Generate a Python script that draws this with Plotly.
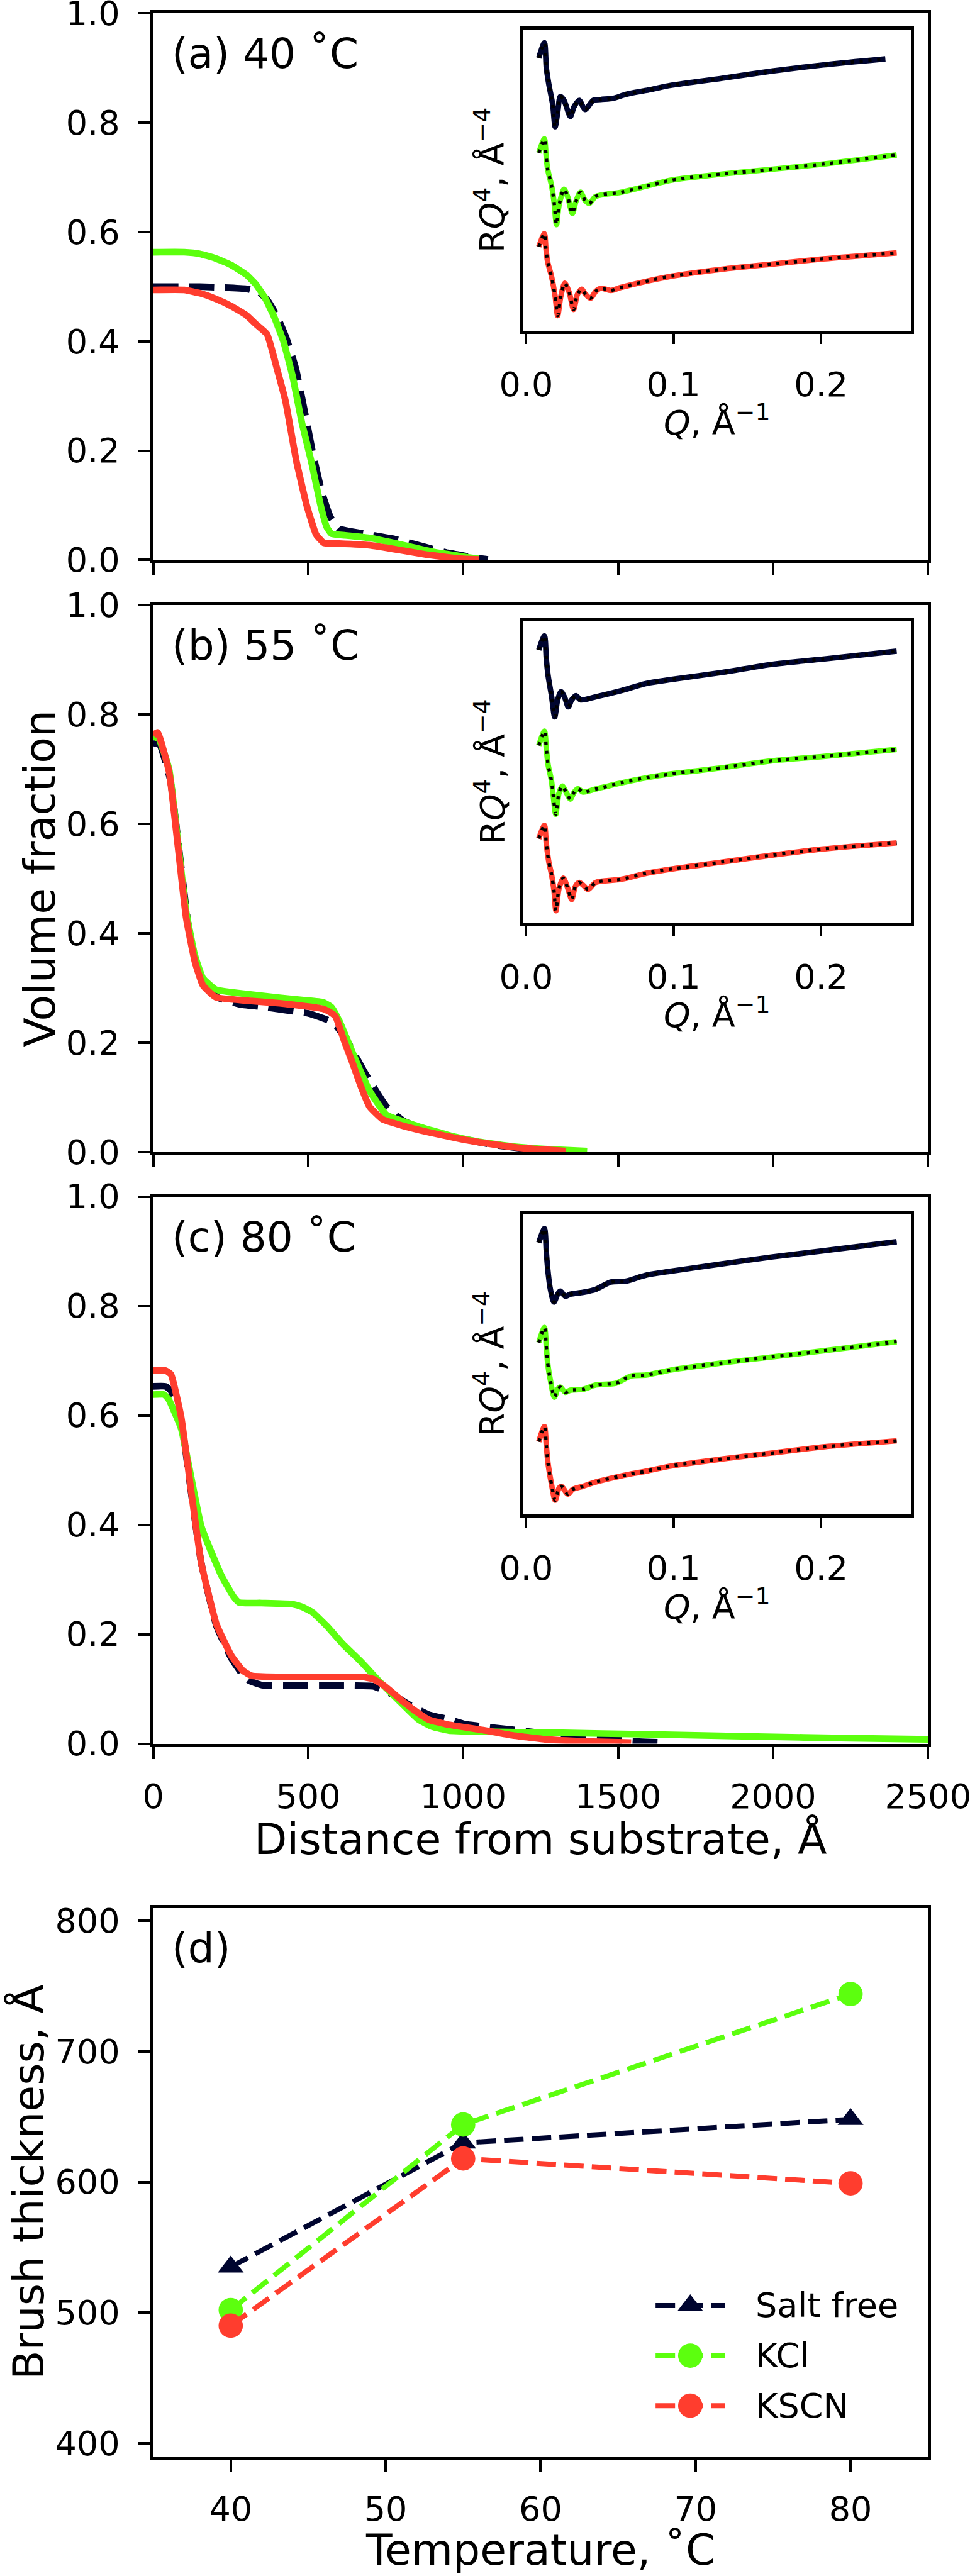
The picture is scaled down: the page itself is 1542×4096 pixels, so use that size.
import plotly.graph_objects as go

# ---------------- reference geometry helpers ----------------
W0, H0 = 1595, 4237          # reference size
W, H = 1542, 4096            # output size
S = W / W0                   # 0.966


def px(x):
    return x / W0


def py(y):
    return 1 - y / H0


FONT = "DejaVu Sans"
NAVY = "#00052F"
GREEN = "#5CFF0E"
RED = "#FF3D2E"

# ---------------- data: volume fraction profiles ----------------
# (a) 40 C
a_sf_x = [0, 150, 300, 340, 370, 400, 430, 460, 490, 515, 545, 572, 600, 640, 700, 780, 850, 900, 950, 1000, 1050, 1080]
a_sf_y = [0.500, 0.500, 0.496, 0.490, 0.474, 0.445, 0.405, 0.350, 0.268, 0.195, 0.122, 0.078, 0.057, 0.052, 0.046, 0.038, 0.028, 0.020, 0.013, 0.008, 0.003, 0.001]
a_kcl_x = [0, 100, 150, 200, 250, 300, 330, 360, 390, 420, 450, 480, 510, 540, 560, 575, 620, 700, 800, 900, 1000, 1050]
a_kcl_y = [0.563, 0.563, 0.560, 0.552, 0.540, 0.522, 0.505, 0.480, 0.445, 0.400, 0.335, 0.250, 0.180, 0.100, 0.060, 0.048, 0.045, 0.040, 0.028, 0.015, 0.006, 0.002]
a_kscn_x = [0, 100, 150, 200, 250, 300, 330, 367, 401, 427, 461, 496, 526, 551, 600, 697, 797, 880, 948, 1000, 1052]
a_kscn_y = [0.494, 0.494, 0.488, 0.478, 0.465, 0.448, 0.432, 0.413, 0.346, 0.290, 0.183, 0.098, 0.046, 0.031, 0.030, 0.027, 0.018, 0.010, 0.005, 0.002, 0.001]

# (b) 55 C
b_sf_x = [0, 20, 55, 85, 112, 140, 170, 210, 280, 344, 420, 504, 560, 583, 629, 684, 753, 808, 880, 1000, 1100, 1200, 1300]
b_sf_y = [0.748, 0.745, 0.680, 0.545, 0.420, 0.340, 0.300, 0.282, 0.270, 0.266, 0.260, 0.253, 0.242, 0.236, 0.200, 0.144, 0.083, 0.057, 0.040, 0.024, 0.013, 0.006, 0.002]
b_kcl_x = [0, 14, 51, 79, 106, 134, 160, 202, 300, 408, 500, 547, 575, 600, 630, 657, 700, 753, 850, 959, 1050, 1165, 1280, 1400]
b_kcl_y = [0.755, 0.760, 0.700, 0.570, 0.440, 0.360, 0.318, 0.297, 0.289, 0.282, 0.277, 0.274, 0.265, 0.240, 0.200, 0.163, 0.110, 0.068, 0.048, 0.030, 0.019, 0.010, 0.005, 0.002]
b_kscn_x = [0, 14, 51, 79, 106, 134, 160, 202, 300, 408, 500, 547, 570, 588, 615, 643, 670, 698, 740, 800, 891, 1000, 1097, 1200, 1331]
b_kscn_y = [0.762, 0.767, 0.695, 0.562, 0.429, 0.349, 0.305, 0.283, 0.277, 0.272, 0.266, 0.262, 0.256, 0.248, 0.205, 0.163, 0.120, 0.083, 0.060, 0.049, 0.036, 0.023, 0.014, 0.007, 0.002]

# (c) 80 C
c_sf_x = [0, 40, 57, 90, 122, 155, 204, 253, 290, 310, 351, 450, 550, 650, 710, 742, 775, 830, 889, 950, 1003, 1100, 1215, 1340, 1460, 1560, 1656]
c_sf_y = [0.653, 0.653, 0.645, 0.590, 0.460, 0.330, 0.215, 0.155, 0.125, 0.115, 0.107, 0.106, 0.106, 0.106, 0.105, 0.098, 0.089, 0.070, 0.053, 0.045, 0.036, 0.029, 0.022, 0.014, 0.008, 0.004, 0.002]
c_kcl_x = [0, 35, 49, 90, 155, 220, 260, 277, 350, 449, 480, 514, 560, 612, 670, 726, 790, 856, 900, 954, 1050, 1297, 1600, 1949, 2250, 2500]
c_kcl_y = [0.638, 0.638, 0.630, 0.576, 0.397, 0.307, 0.268, 0.258, 0.257, 0.255, 0.250, 0.240, 0.215, 0.182, 0.150, 0.116, 0.080, 0.044, 0.031, 0.024, 0.022, 0.020, 0.017, 0.013, 0.010, 0.008]
c_kscn_x = [0, 40, 57, 90, 122, 155, 204, 253, 290, 318, 400, 500, 600, 677, 710, 742, 775, 808, 850, 889, 950, 1052, 1150, 1264, 1400, 1542]
c_kscn_y = [0.682, 0.682, 0.675, 0.597, 0.463, 0.330, 0.218, 0.160, 0.133, 0.124, 0.122, 0.122, 0.122, 0.122, 0.118, 0.107, 0.092, 0.076, 0.058, 0.044, 0.035, 0.026, 0.016, 0.008, 0.004, 0.002]

# ---------------- data: reflectivity insets (RQ^4, arbitrary offset units) ----------------
a_ref_sf_q = [0.0086, 0.0124, 0.0137, 0.0154, 0.0180, 0.0197, 0.0214, 0.0232, 0.0257, 0.0300, 0.0326, 0.0360, 0.0400, 0.0455, 0.0506, 0.0592, 0.0678, 0.0815, 0.0986, 0.1329, 0.1672, 0.2015, 0.2436]
a_ref_sf_r = [90.0, 95.0, 86.7, 81.3, 74.7, 67.3, 72.0, 77.3, 76.0, 70.7, 74.0, 76.0, 73.0, 76.0, 76.3, 76.7, 78.0, 79.3, 81.0, 83.3, 85.7, 87.7, 89.7]
a_ref_kcl_q = [0.0086, 0.0124, 0.0134, 0.0146, 0.0172, 0.0189, 0.0206, 0.0223, 0.0257, 0.0283, 0.0314, 0.0338, 0.0369, 0.0400, 0.0429, 0.0472, 0.0643, 0.0815, 0.0986, 0.1329, 0.1672, 0.2015, 0.2513]
a_ref_kcl_r = [58.7, 63.3, 58.7, 53.3, 48.0, 42.7, 35.0, 41.3, 46.7, 44.0, 38.7, 42.7, 45.7, 43.0, 42.0, 44.3, 45.7, 47.7, 49.7, 51.7, 53.3, 55.0, 58.0]
a_ref_kscn_q = [0.0086, 0.0124, 0.0134, 0.0146, 0.0172, 0.0197, 0.0214, 0.0235, 0.0262, 0.0292, 0.0322, 0.0348, 0.0377, 0.0403, 0.0437, 0.0472, 0.0506, 0.0575, 0.0643, 0.0815, 0.0986, 0.1329, 0.1672, 0.2015, 0.2513]
a_ref_kscn_r = [27.7, 32.0, 27.3, 22.7, 18.0, 11.3, 5.0, 11.3, 15.7, 12.7, 7.0, 12.0, 13.7, 12.0, 10.7, 13.0, 14.0, 13.3, 14.3, 16.3, 18.0, 20.3, 22.0, 23.7, 25.7]

b_ref_sf_q = [0.0086, 0.0124, 0.0137, 0.0149, 0.0172, 0.0194, 0.0214, 0.0237, 0.0262, 0.0286, 0.0309, 0.0338, 0.0369, 0.0472, 0.0643, 0.0815, 0.0986, 0.1329, 0.1672, 0.2015, 0.2513]
b_ref_sf_r = [89.7, 94.3, 86.7, 81.3, 74.7, 67.7, 73.3, 76.0, 74.0, 71.0, 73.3, 74.7, 73.3, 74.3, 76.3, 78.7, 80.0, 82.3, 85.0, 86.7, 89.3]
b_ref_kcl_q = [0.0086, 0.0124, 0.0137, 0.0149, 0.0172, 0.0185, 0.0201, 0.0223, 0.0245, 0.0274, 0.0300, 0.0326, 0.0352, 0.0386, 0.0472, 0.0643, 0.0815, 0.0986, 0.1158, 0.1329, 0.1672, 0.2015, 0.2513]
b_ref_kcl_r = [58.3, 63.0, 57.3, 52.0, 46.7, 41.3, 35.7, 42.7, 45.0, 42.7, 40.7, 43.0, 44.1, 43.0, 44.0, 46.0, 47.7, 49.0, 50.0, 51.0, 53.3, 54.7, 57.0]
b_ref_kscn_q = [0.0086, 0.0124, 0.0137, 0.0154, 0.0172, 0.0189, 0.0202, 0.0223, 0.0252, 0.0283, 0.0309, 0.0334, 0.0360, 0.0395, 0.0420, 0.0472, 0.0643, 0.0815, 0.0986, 0.1329, 0.1672, 0.2015, 0.2513]
b_ref_kscn_r = [27.7, 32.0, 26.0, 20.0, 16.0, 10.7, 4.0, 11.3, 14.7, 11.3, 7.7, 12.0, 13.3, 12.0, 11.0, 13.3, 14.3, 16.3, 17.7, 20.0, 22.3, 24.3, 26.3]

c_ref_sf_q = [0.0086, 0.0124, 0.0137, 0.0146, 0.0163, 0.0189, 0.0214, 0.0232, 0.0266, 0.0300, 0.0386, 0.0472, 0.0575, 0.0678, 0.0815, 0.0986, 0.1329, 0.1672, 0.2015, 0.2513]
c_ref_sf_r = [89.7, 94.3, 86.7, 81.3, 74.7, 70.1, 72.7, 73.7, 72.0, 72.7, 73.3, 74.3, 76.7, 77.0, 79.0, 80.3, 82.7, 85.0, 87.0, 90.0]
c_ref_kcl_q = [0.0086, 0.0124, 0.0137, 0.0146, 0.0163, 0.0192, 0.0214, 0.0232, 0.0266, 0.0300, 0.0386, 0.0472, 0.0609, 0.0712, 0.0815, 0.0986, 0.1329, 0.1672, 0.2015, 0.2513]
c_ref_kcl_r = [56.7, 61.7, 55.3, 50.0, 44.7, 38.7, 41.3, 42.0, 40.3, 41.0, 41.3, 42.7, 43.3, 45.7, 46.0, 47.7, 50.0, 52.0, 54.0, 57.0]
c_ref_kscn_q = [0.0086, 0.0124, 0.0137, 0.0149, 0.0172, 0.0197, 0.0223, 0.0240, 0.0283, 0.0317, 0.0386, 0.0472, 0.0643, 0.0815, 0.0986, 0.1329, 0.1672, 0.2015, 0.2513]
c_ref_kscn_r = [24.0, 29.0, 22.7, 16.7, 10.0, 4.7, 8.7, 9.3, 6.7, 8.3, 9.3, 10.7, 12.7, 14.3, 16.0, 18.3, 20.3, 22.3, 24.3]

# ---------------- data: brush thickness ----------------
temps = [40, 55, 80]
thick_salt_free = [535, 630, 648]
thick_kcl = [502, 644, 744]
thick_kscn = [490, 618, 599]
legend_labels = ["Salt free", "KCl", "KSCN"]

# ---------------- styles ----------------
LW_MAIN = 11 * S
DASH_MAIN = "40px,17px"
LW_INS = 9 * S
LW_DOT = 5.5 * S
DASH_DOT = "5px,9px"
LW_D = 8.3 * S
DASH_D = "31px,13px"
TICK_FS = 54
TITLE_FS = 68
LABEL_FS = 66
INS_FS = 54
LEG_FS = 54

fig = go.Figure()


def profile(x, y, color, dashed, ax):
    fig.add_trace(go.Scatter(
        x=x, y=y, mode="lines", xaxis="x" + ax, yaxis="y" + ax,
        line=dict(color=color, width=LW_MAIN, dash=DASH_MAIN if dashed else "solid",
                  shape="spline", smoothing=0.4),
        showlegend=False, hoverinfo="skip"))


for ax, sets in [("", (a_sf_x, a_sf_y, a_kcl_x, a_kcl_y, a_kscn_x, a_kscn_y)),
                 ("2", (b_sf_x, b_sf_y, b_kcl_x, b_kcl_y, b_kscn_x, b_kscn_y)),
                 ("3", (c_sf_x, c_sf_y, c_kcl_x, c_kcl_y, c_kscn_x, c_kscn_y))]:
    profile(sets[0], sets[1], NAVY, True, ax)
    profile(sets[2], sets[3], GREEN, False, ax)
    profile(sets[4], sets[5], RED, False, ax)


def refl(q, r, color, ax):
    fig.add_trace(go.Scatter(
        x=q, y=r, mode="lines", xaxis="x" + ax, yaxis="y" + ax,
        line=dict(color=color, width=LW_INS, shape="spline", smoothing=0.8),
        showlegend=False, hoverinfo="skip"))
    fig.add_trace(go.Scatter(
        x=q, y=r, mode="lines", xaxis="x" + ax, yaxis="y" + ax,
        line=dict(color="black", width=LW_DOT, dash=DASH_DOT, shape="spline", smoothing=0.8),
        showlegend=False, hoverinfo="skip"))


refl(a_ref_sf_q, a_ref_sf_r, NAVY, "5")
refl(a_ref_kcl_q, a_ref_kcl_r, GREEN, "5")
refl(a_ref_kscn_q, a_ref_kscn_r, RED, "5")
refl(b_ref_sf_q, b_ref_sf_r, NAVY, "6")
refl(b_ref_kcl_q, b_ref_kcl_r, GREEN, "6")
refl(b_ref_kscn_q, b_ref_kscn_r, RED, "6")
refl(c_ref_sf_q, c_ref_sf_r, NAVY, "7")
refl(c_ref_kcl_q, c_ref_kcl_r, GREEN, "7")
refl(c_ref_kscn_q, c_ref_kscn_r, RED, "7")

# panel d
series_d = [(thick_salt_free, NAVY, "triangle-up", 37 * S),
            (thick_kcl, GREEN, "circle", 40 * S),
            (thick_kscn, RED, "circle", 40 * S)]
for vals, col, sym, ms in series_d:
    fig.add_trace(go.Scatter(
        x=temps, y=vals, mode="lines+markers", xaxis="x4", yaxis="y4",
        line=dict(color=col, width=LW_D, dash=DASH_D),
        marker=dict(color=col, symbol=sym, size=ms, line=dict(width=0)),
        showlegend=False, hoverinfo="skip"))

# custom legend drawn on a hidden helper axis (rows 2,1,0)
for i, (vals, col, sym, ms) in enumerate(series_d):
    row = 2 - i
    fig.add_trace(go.Scatter(
        x=[0, 0.5, 1], y=[row, row, row], mode="lines", xaxis="x8", yaxis="y8",
        line=dict(color=col, width=LW_D, dash=DASH_D), showlegend=False, hoverinfo="skip"))
    fig.add_trace(go.Scatter(
        x=[0.5], y=[row], mode="markers", xaxis="x8", yaxis="y8", cliponaxis=False,
        marker=dict(color=col, symbol=sym, size=ms, line=dict(width=0)),
        showlegend=False, hoverinfo="skip"))

# ---------------- axes ----------------
base = dict(showline=True, linecolor="black", linewidth=5 * S, mirror=True,
            ticks="outside", ticklen=20 * S, tickwidth=4.6 * S, tickcolor="black",
            showgrid=False, zeroline=False, ticklabeloverflow="allow", automargin=False,
            tickfont=dict(family=FONT, size=TICK_FS, color="black"))

XM = [px(252), px(1526)]
xt = dict(base, range=[0, 2500], tickvals=[0, 500, 1000, 1500, 2000, 2500], domain=XM,
          ticklabelstandoff=13)
yt = dict(base, range=[0, 1], tickvals=[0, 0.2, 0.4, 0.6, 0.8, 1.0], tickformat=".1f",
          ticklabelstandoff=18)

XI = [px(860), px(1498)]
xi = dict(base, range=[-0.0021, 0.261], tickvals=[0, 0.1, 0.2], ticktext=["0.0", "0.1", "0.2"],
          ticklen=17 * S, domain=XI, tickfont=dict(family=FONT, size=INS_FS, color="black"),
          ticklabelstandoff=18)
yi = dict(base, range=[0, 99.3], ticks="", showticklabels=False)

fig.update_layout(
    xaxis=dict(xt, anchor="y", showticklabels=False),
    yaxis=dict(yt, anchor="x", domain=[py(921), py(22)]),
    xaxis2=dict(xt, anchor="y2", showticklabels=False),
    yaxis2=dict(yt, anchor="x2", domain=[py(1895), py(995)]),
    xaxis3=dict(xt, anchor="y3"),
    yaxis3=dict(yt, anchor="x3", domain=[py(2868), py(1968)]),
    xaxis4=dict(base, anchor="y4", domain=XM, range=[35, 85], tickvals=[40, 50, 60, 70, 80],
                ticklabelstandoff=13),
    yaxis4=dict(base, anchor="x4", domain=[py(4040), py(3138)], range=[390, 810],
                tickvals=[400, 500, 600, 700, 800], ticklabelstandoff=18),
    xaxis5=dict(xi, anchor="y5"),
    yaxis5=dict(yi, anchor="x5", domain=[py(544), py(49)]),
    xaxis6=dict(xi, anchor="y6"),
    yaxis6=dict(yi, anchor="x6", domain=[py(1518), py(1021)]),
    xaxis7=dict(xi, anchor="y7"),
    yaxis7=dict(yi, anchor="x7", domain=[py(2491), py(1996)]),
    xaxis8=dict(visible=False, anchor="y8", range=[-0.1, 1.1],
                domain=[px(1066.6), px(1203.4)], fixedrange=True),
    yaxis8=dict(visible=False, anchor="x8", range=[-0.5, 2.5],
                domain=[py(3998), py(3751)], fixedrange=True),
)

# ---------------- annotations (titles / labels) ----------------
ann = []


def text(x, y, s, size, angle=0, xanchor="center", yanchor="middle"):
    ann.append(dict(x=px(x), y=py(y), xref="paper", yref="paper", text=s, showarrow=False,
                    textangle=angle, xanchor=xanchor, yanchor=yanchor,
                    font=dict(family=FONT, size=size, color="black")))


text(280, 88, "(a) 40 ˚C", LABEL_FS, xanchor="left")
text(280, 1062, "(b) 55 ˚C", LABEL_FS, xanchor="left")
text(280, 2035, "(c) 80 ˚C", LABEL_FS, xanchor="left")
text(280, 3204, "(d)", LABEL_FS, xanchor="left")

text(66, 1445, "Volume fraction", TITLE_FS, angle=-90)
text(889, 3025, "Distance from substrate, Å", TITLE_FS)
text(46, 3589, "Brush thickness, Å", TITLE_FS, angle=-90)
text(889, 4194, "Temperature, ˚C", TITLE_FS)

for top, bot in [(49, 544), (1021, 1518), (1996, 2491)]:
    text(806, (top + bot) / 2, "R<i>Q</i><sup>4</sup>, Å<sup>−4</sup>", INS_FS, angle=-90)
    text(1179, bot + 148, "<i>Q</i>, Å<sup>−1</sup>", INS_FS)

for i, lab in enumerate(legend_labels):
    text(1240, 3792 + i * 82.5, lab, LEG_FS, xanchor="left")

fig.update_layout(
    annotations=ann,
    width=W, height=H, autosize=False,
    margin=dict(l=0, r=0, t=0, b=0, pad=0, autoexpand=False),
    paper_bgcolor="white", plot_bgcolor="white",
    showlegend=False,
    font=dict(family=FONT, color="black"),
)

fig.write_html("out.html", config={"displayModeBar": False},
               post_script="document.body.style.margin='0';")
